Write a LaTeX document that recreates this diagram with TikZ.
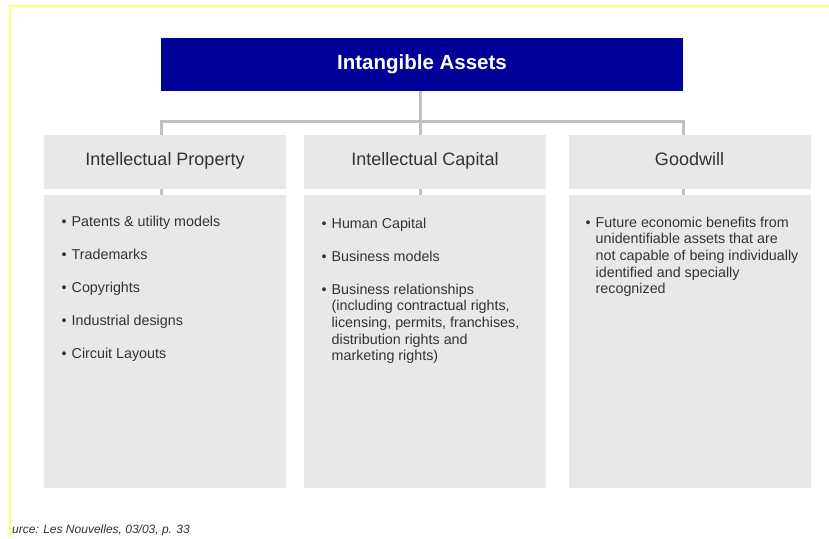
\documentclass[tikz,border=0pt]{standalone}
\usepackage{fontspec}
\setmainfont{Liberation Sans}
\definecolor{navy}{HTML}{000099}
\definecolor{boxgray}{HTML}{E8E8E8}
\definecolor{conngray}{HTML}{C0C0C0}
\definecolor{txt}{HTML}{333333}
\definecolor{frameyellow}{HTML}{FFFF70}
\begin{document}
\begin{tikzpicture}[x=1pt,y=-1pt,
  titlebox/.style={fill=navy,draw=none,minimum width=522pt,minimum height=53pt,inner sep=0pt,
    text=white,font=\fontsize{20.5}{24}\selectfont\bfseries,text height=14.7pt,text depth=4.3pt},
  headbox/.style={fill=boxgray,draw=none,minimum width=242pt,minimum height=54pt,inner sep=0pt,
    text=txt,font=\fontsize{18}{21}\selectfont,text height=12.9pt,text depth=6.9pt},
  bodybox/.style={fill=boxgray,draw=none,minimum width=242pt,minimum height=293pt,inner sep=0pt},
  bodytext/.style={anchor=base west,inner sep=0pt,text=txt,font=\fontsize{14.3}{16.7}\selectfont},
  conn/.style={draw=conngray,line width=3pt}]
\useasboundingbox (0,0) rectangle (829,538);
\fill[white] (0,0) rectangle (829,538);
% frame
\draw[frameyellow,line width=1.2pt] (10,538) -- (10,6) -- (829,6);
% title
\node[titlebox] (title) at (422,64.5) {Intangible Assets};
% headers
\node[headbox] (h1) at (165,162) {Intellectual Property};
\node[headbox] (h2) at (425,162) {Intellectual Capital};
\node[headbox] (h3) at (689.5,162) {Goodwill};
% bodies
\node[bodybox] (b1) at (165,341.5) {};
\node[bodybox] (b2) at (425,341.5) {};
\node[bodybox] (b3) at (689.5,341.5) {};
% connectors
\coordinate (j1) at (161,121);
\coordinate (j2) at (420,121);
\coordinate (j3) at (683,121);
\draw[conn] (title.south -| j2) -- (j2);
\draw[conn] (j1 |- h1.north) -- (j1) -- (j3) -- (j3 |- h3.north);
\draw[conn] (j2) -- (j2 |- h2.north);
\draw[conn] (j1 |- h1.south) -- (j1 |- b1.north);
\draw[conn] (j2 |- h2.south) -- (j2 |- b2.north);
\draw[conn] (j3 |- h3.south) -- (j3 |- b3.north);
% body texts
\node[bodytext] (t1) at (61.5,226) {\begin{tabular}[t]{@{}l@{\hspace{5pt}}l@{}}
\textbullet & Patents \& utility models\\[16.3pt]
\textbullet & Trademarks\\[16.3pt]
\textbullet & Copyrights\\[16.3pt]
\textbullet & Industrial designs\\[16.3pt]
\textbullet & Circuit Layouts
\end{tabular}};
\node[bodytext] (t2) at (321.5,228) {\begin{tabular}[t]{@{}l@{\hspace{5pt}}l@{}}
\textbullet & Human Capital\\[16.3pt]
\textbullet & Business models\\[16.3pt]
\textbullet & Business relationships\\
 & (including contractual rights,\\
 & licensing, permits, franchises,\\
 & distribution rights and\\
 & marketing rights)
\end{tabular}};
\node[bodytext] (t3) at (585.5,227) {\begin{tabular}[t]{@{}l@{\hspace{5pt}}l@{}}
\textbullet & Future economic benefits from\\
 & unidentifiable assets that are\\
 & not capable of being individually\\
 & identified and specially\\
 & recognized
\end{tabular}};
% source
\node[anchor=base west,inner sep=0pt,text=txt,font=\fontsize{12}{14}\selectfont\itshape] (src) at (12,533) {urce: Les Nouvelles, 03/03, p. 33};
\end{tikzpicture}
\end{document}
